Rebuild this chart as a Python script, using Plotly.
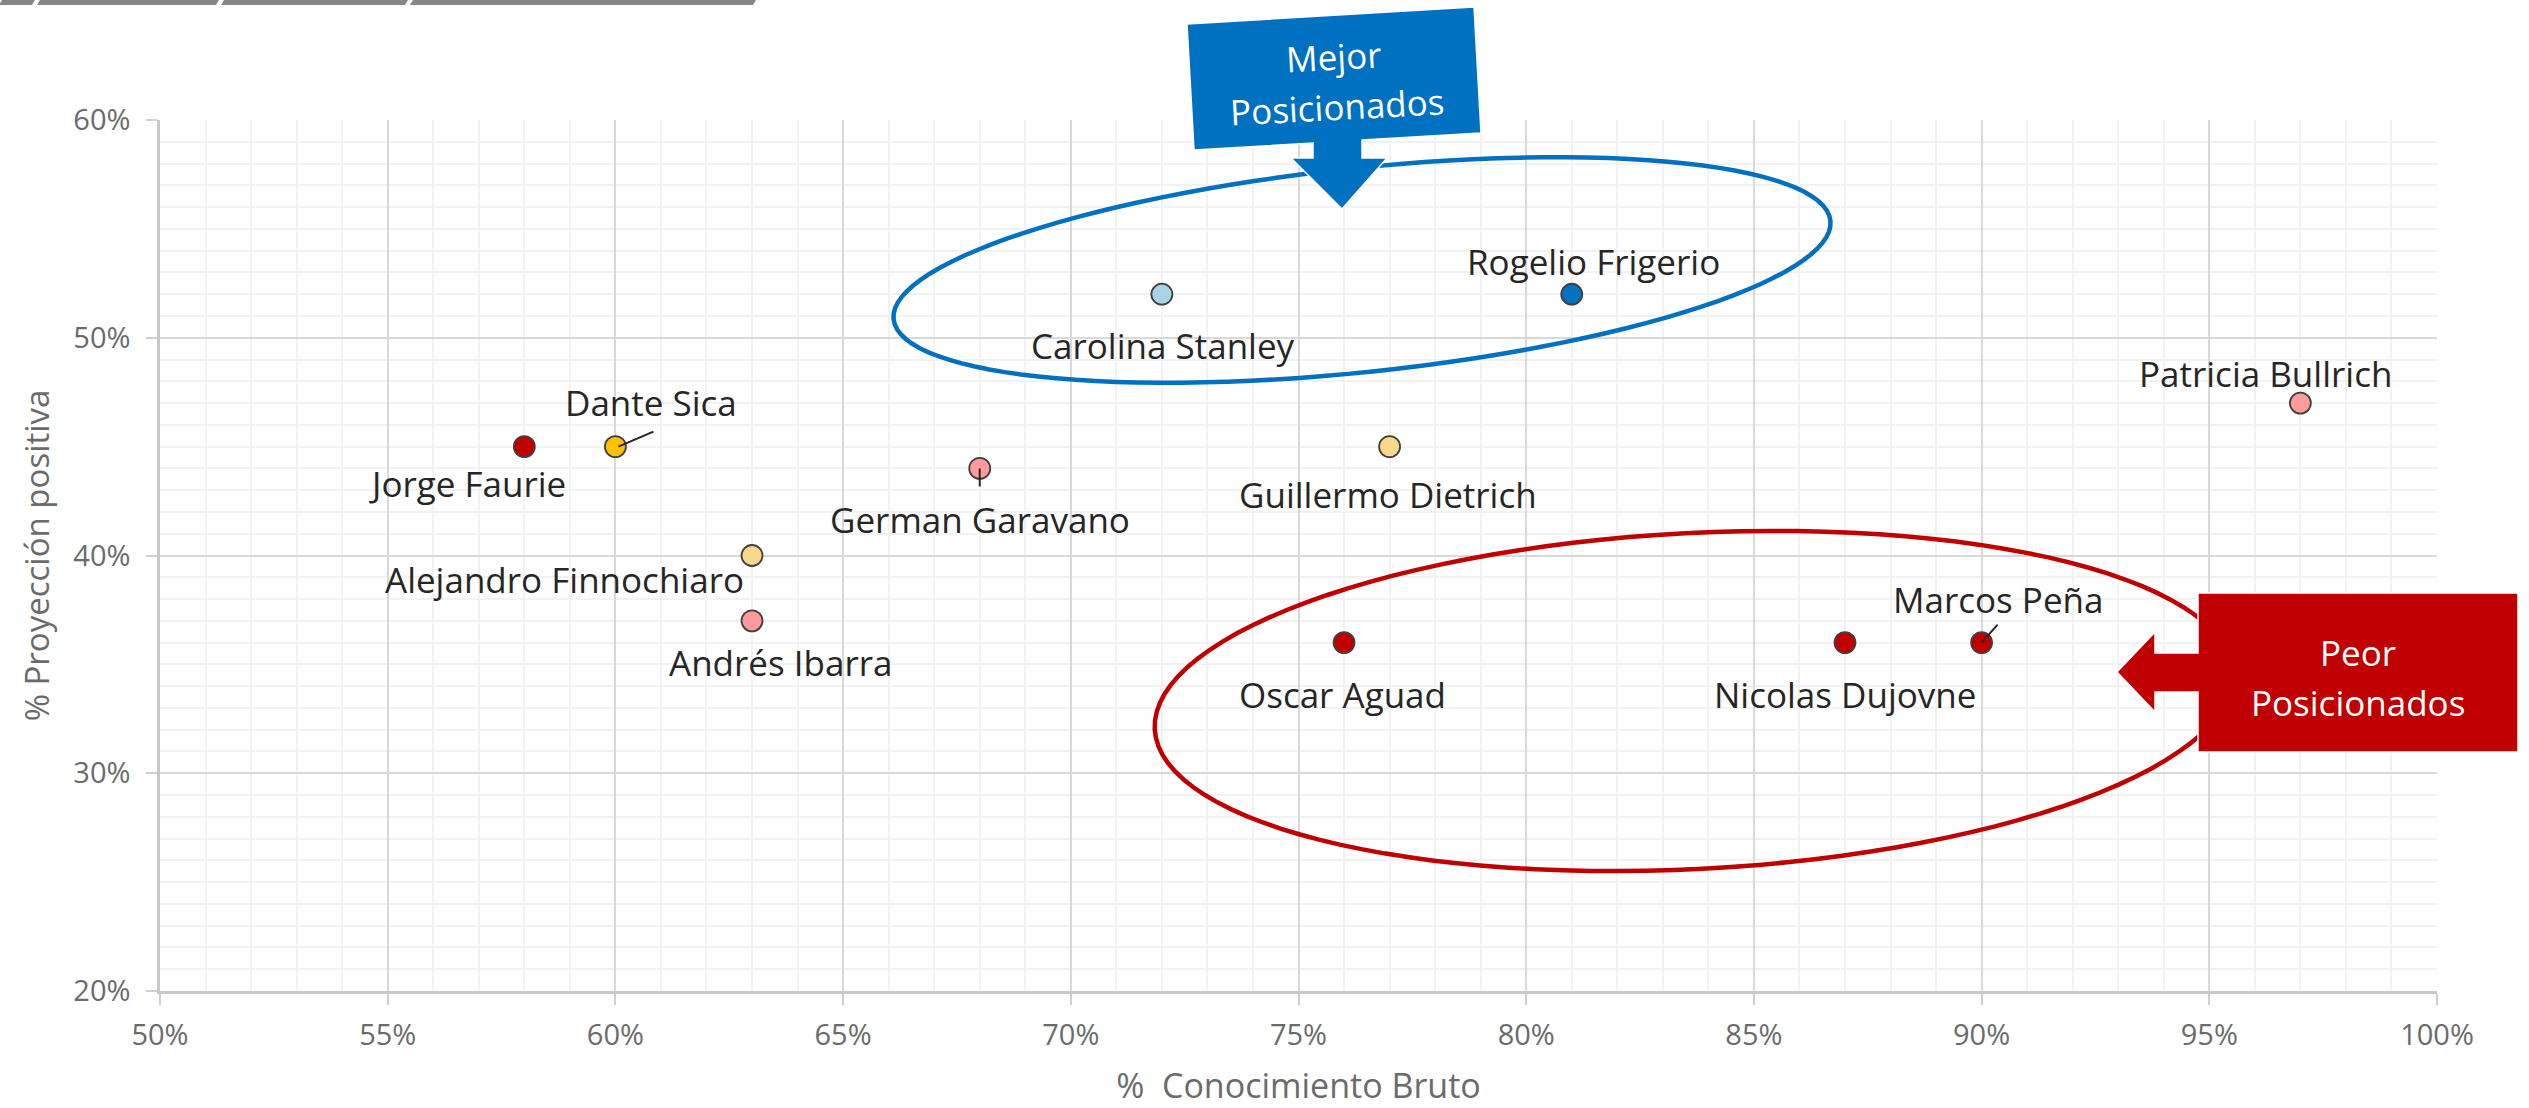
import math
import plotly.graph_objects as go

# ---------------- data ----------------
names = ["Jorge Faurie", "Dante Sica", "Alejandro Finnochiaro", "Andrés Ibarra",
         "German Garavano", "Carolina Stanley", "Rogelio Frigerio", "Guillermo Dietrich",
         "Patricia Bullrich", "Oscar Aguad", "Nicolas Dujovne", "Marcos Peña"]
conocimiento = [0.58, 0.60, 0.63, 0.63, 0.68, 0.72, 0.81, 0.77, 0.97, 0.76, 0.87, 0.90]
proyeccion = [0.45, 0.45, 0.40, 0.37, 0.44, 0.52, 0.52, 0.45, 0.47, 0.36, 0.36, 0.36]
x_ticks = [0.50, 0.55, 0.60, 0.65, 0.70, 0.75, 0.80, 0.85, 0.90, 0.95, 1.00]
y_ticks = [0.20, 0.30, 0.40, 0.50, 0.60]

# ---------------- styles ----------------
colors = ["#c00000", "#ffc000", "#f9d88c", "#ff9b9b", "#ff9b9b", "#a9d4e4",
          "#0070c0", "#f9d88c", "#ff9b9b", "#c00000", "#c00000", "#c00000"]
label_shift = [(-57, -37), (36, 44), (-188, -24), (28, -42), (0, -51), (1, -51),
               (22, 33), (-2, -48), (-35, 30), (-2, -52), (0, -52), (16, 43)]

W, H = 2529, 1108
L, R, T, B = 160, 2437, 120, 991
FONT = "Open Sans"


def px(x):
    return (x - L) / (R - L)


def py(y):
    return (B - y) / (B - T)


def poly(points):
    return "M " + " L ".join(f"{px(a):.5f},{py(b):.5f}" for a, b in points) + " Z"


def ellipse(cx, cy, a, b, deg, n=120):
    th = math.radians(deg)
    pts = []
    for i in range(n):
        t = 2 * math.pi * i / n
        x = cx + a * math.cos(t) * math.cos(th) - b * math.sin(t) * math.sin(th)
        y = cy + a * math.cos(t) * math.sin(th) + b * math.sin(t) * math.cos(th)
        pts.append((x, y))
    return poly(pts)


fig = go.Figure()
fig.add_trace(go.Scatter(
    x=conocimiento, y=proyeccion, mode="markers",
    marker=dict(size=21, color=colors, line=dict(color="#404040", width=1.8)),
    hovertext=names, showlegend=False, cliponaxis=False,
))

shapes = []
# top gray strips
for x0, x1 in [(0, 33), (38, 217), (222, 406), (411, 754)]:
    shapes.append(dict(type="path", xref="paper", yref="paper",
                       path=poly([(x0 + 2, 0), (x1 + 2, 0), (x1 - 1, 5), (x0 - 1, 5)]),
                       fillcolor="#878787", line=dict(width=0), layer="above"))

# ellipses
shapes.append(dict(type="path", xref="paper", yref="paper",
                   path=ellipse(1362, 270, 471, 102, -6.0),
                   line=dict(color="#0070c0", width=4.5), fillcolor="rgba(0,0,0,0)", layer="above"))
shapes.append(dict(type="path", xref="paper", yref="paper",
                   path=ellipse(1694, 701, 540, 168, -3.0),
                   line=dict(color="#c00000", width=4.5), fillcolor="rgba(0,0,0,0)", layer="above"))

# callouts
shapes.append(dict(type="path", xref="paper", yref="paper",
                   path=poly([(1187, 24), (1474, 7), (1481, 133), (1362, 140), (1362, 158),
                              (1387, 158), (1342, 209), (1291, 158), (1313, 158), (1313, 143),
                              (1194, 150)]),
                   fillcolor="#0070c0", line=dict(color="white", width=1.5), layer="above"))
shapes.append(dict(type="path", xref="paper", yref="paper",
                   path=poly([(2198, 593), (2518, 593), (2518, 752), (2198, 752), (2198, 692),
                              (2155, 692), (2155, 712), (2117, 672), (2155, 632), (2155, 653),
                              (2198, 653)]),
                   fillcolor="#c00000", line=dict(color="white", width=1.5), layer="above"))

# leader lines (pixel offsets from the point)
leaders = {1: ((3, 0), (38, 15)), 11: ((0, 0), (16, 18)), 4: ((0, 0), (0, -18))}
for i, ((ax0, ay0), (ax1, ay1)) in leaders.items():
    shapes.append(dict(type="line", xref="x", yref="y", xsizemode="pixel", ysizemode="pixel",
                       xanchor=conocimiento[i], yanchor=proyeccion[i],
                       x0=ax0, x1=ax1, y0=ay0, y1=ay1,
                       line=dict(color="#262626", width=2), layer="above"))

annotations = []
for i, n in enumerate(names):
    dx, dy = label_shift[i]
    annotations.append(dict(x=conocimiento[i], y=proyeccion[i], xref="x", yref="y",
                            text=n, showarrow=False, xshift=dx, yshift=dy,
                            font=dict(family=FONT, size=35, color="#262626")))

for txt, (x, y), ang in [("Mejor", (1333, 57), -3), ("Posicionados", (1337, 107), -3),
                         ("Peor", (2358, 652), 0), ("Posicionados", (2358, 702), 0)]:
    annotations.append(dict(x=px(x), y=py(y), xref="paper", yref="paper", text=txt,
                            showarrow=False, textangle=ang, xanchor="center", yanchor="middle",
                            font=dict(family=FONT, size=35, color="white")))

fig.update_layout(
    width=W, height=H,
    margin=dict(l=L, r=W - R, t=T, b=H - B, autoexpand=False),
    paper_bgcolor="white", plot_bgcolor="white",
    font=dict(family=FONT, color="#595959"),
    shapes=shapes, annotations=annotations,
    xaxis=dict(range=[0.5, 1.0], tickvals=x_ticks, tickformat=".0%",
               showgrid=True, gridcolor="#d9d9d9", gridwidth=1.5,
               minor=dict(dtick=0.01, showgrid=True, gridcolor="#f2f2f2", gridwidth=1.5),
               showline=True, linecolor="#c8c8c8", linewidth=2.5,
               ticks="outside", ticklen=11, tickcolor="#d0d0d0", tickwidth=2,
               ticklabelstandoff=5, zeroline=False,
               tickfont=dict(family=FONT, size=29, color="#6b6b6b"),
               title=dict(text="%\u00a0 Conocimiento Bruto", standoff=29,
                          font=dict(family=FONT, size=34, color="#6b6b6b"))),
    yaxis=dict(range=[0.2, 0.6], tickvals=y_ticks, tickformat=".0%",
               showgrid=True, gridcolor="#d9d9d9", gridwidth=1.5,
               minor=dict(dtick=0.01, showgrid=True, gridcolor="#f2f2f2", gridwidth=1.5),
               showline=True, linecolor="#c8c8c8", linewidth=2.5,
               ticks="outside", ticklen=11, tickcolor="#d0d0d0", tickwidth=2,
               ticklabelstandoff=10, zeroline=False,
               tickfont=dict(family=FONT, size=29, color="#6b6b6b"),
               title=dict(text="% Proyección positiva", standoff=14,
                          font=dict(family=FONT, size=33, color="#6b6b6b"))),
)

fig.write_html("out.html", config={"displayModeBar": False},
               post_script="document.body.style.margin='0';")
